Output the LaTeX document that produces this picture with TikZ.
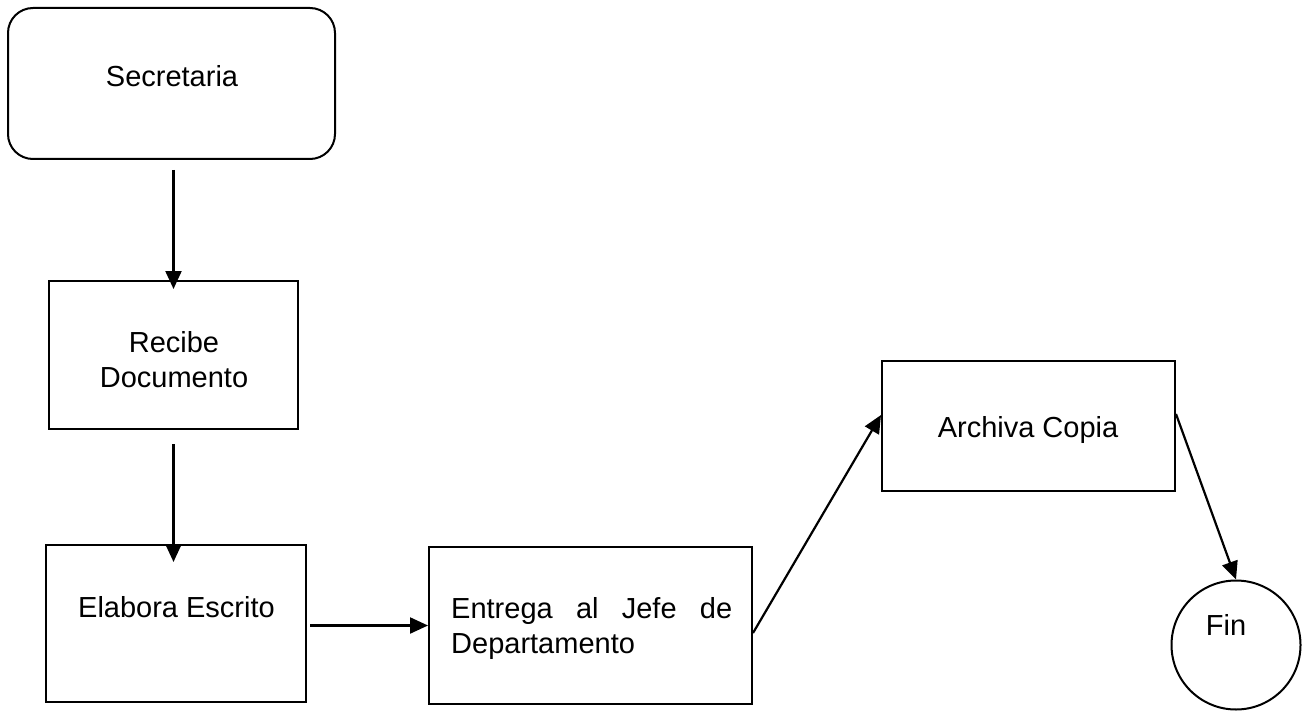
\documentclass[tikz,border=0pt]{standalone}
\usepackage{fontspec}
\setmainfont{Liberation Sans}
\usetikzlibrary{arrows.meta}
\hbadness=10000
\begin{document}
\begin{tikzpicture}[x=1pt,y=-1pt,
  box/.style={draw, line width=2pt, inner sep=0pt},
  lbl/.style={font=\fontsize{29}{35}\selectfont, inner sep=0pt, anchor=base},
  flow/.style={line width=2.2pt, -{Triangle[length=18pt,width=16pt]}}]
  \useasboundingbox (0,0) rectangle (1308,711);

  % process boxes
  \node[box, rounded corners=25pt, minimum width=327pt, minimum height=151pt] (sec) at (171.5,83.5) {};
  \node[box, minimum width=249pt, minimum height=148pt] (rec) at (173.5,355) {};
  \node[box, minimum width=260pt, minimum height=157pt] (ela) at (176,623.5) {};
  \node[box, minimum width=323pt, minimum height=157pt] (ent) at (590.5,625.5) {};
  \node[box, minimum width=293pt, minimum height=130pt] (arc) at (1028.5,426) {};
  \node[box, circle, minimum size=129pt] (fin) at (1236,645) {};

  % labels
  \node[lbl] (tsec) at (172,87) {Secretaria};
  \node[lbl, align=center] (trec) at (174,387) {Recibe\\Documento};
  \node[lbl] (tela) at (176.5,617) {Elabora Escrito};
  \node[lbl, anchor=base west, text width=281pt, align=justify] (tent) at (451,618)
    {Entrega al Jefe de\linebreak Departamento};
  \node[lbl] (tarc) at (1028,437) {Archiva Copia};
  \node[lbl] (tfin) at (1226,635) {Fin};

  % connectors
  \draw[flow] ([yshift=-10pt]sec.south -| rec.north) -- ([yshift=-9pt]rec.north);
  \draw[flow] ([yshift=-14pt]rec.south) -- ([yshift=-18pt]rec.south |- ela.north);
  \draw[flow] ([xshift=3pt]ela.east |- ent.west) -- (ent.west);
  \draw[flow] ([yshift=-7.5pt]ent.east) -- ([yshift=11pt]arc.west);
  \draw[flow] ([yshift=12pt]arc.east) -- (fin.north);
\end{tikzpicture}
\end{document}
